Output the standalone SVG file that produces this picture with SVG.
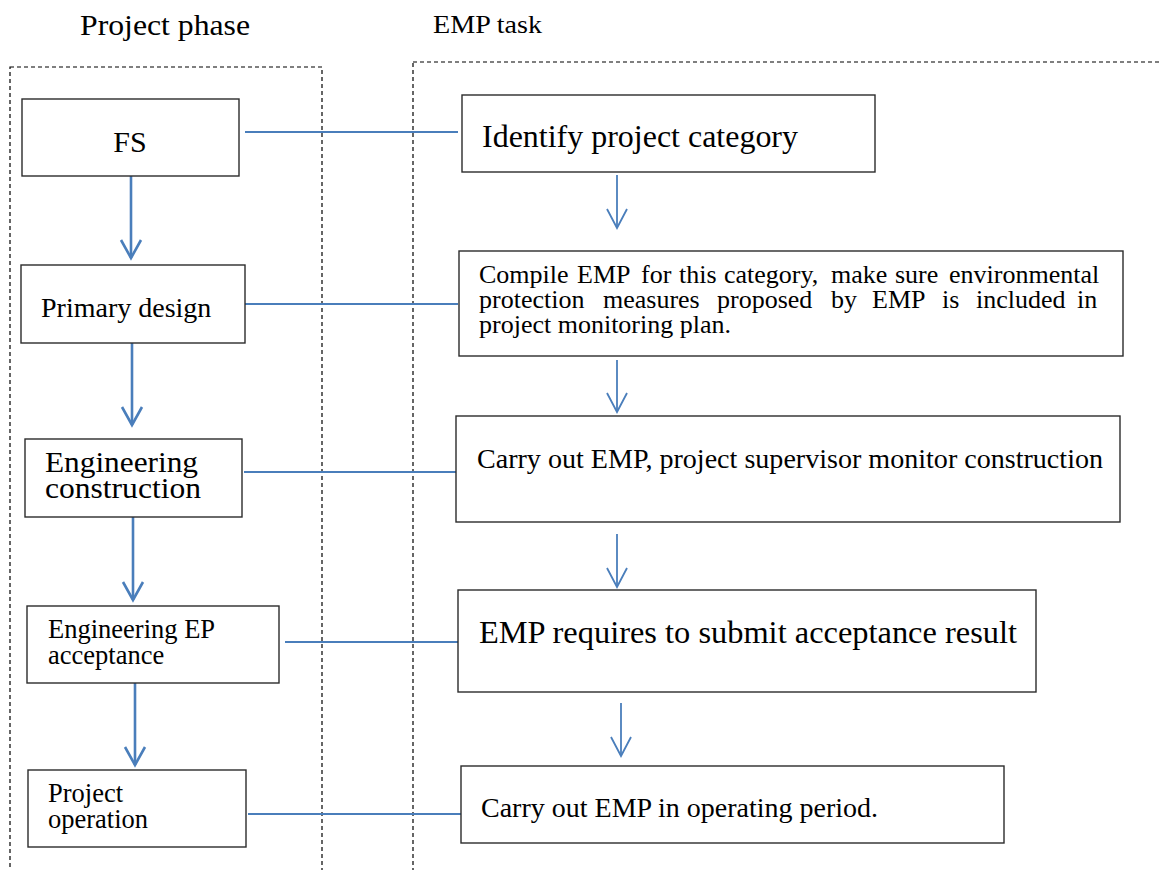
<svg xmlns="http://www.w3.org/2000/svg" width="1161" height="870" viewBox="0 0 1161 870">
  <style>
    .lane { fill: none; stroke: #000; stroke-width: 1.2; stroke-dasharray: 4 3; }
    .box { fill: #fff; stroke: #2b2b2b; stroke-width: 1.4; }
    .t { font-family: "Liberation Serif", "Times New Roman", serif; fill: #000; }
    .link { fill: none; stroke: #4a7ebb; stroke-width: 2; }
    .flowL { fill: none; stroke: #4a7ebb; stroke-width: 2.6; }
    .flowR { fill: none; stroke: #4a7ebb; stroke-width: 1.8; }
  </style>
  <defs>
    <marker id="vL" markerUnits="userSpaceOnUse" viewBox="-20 -12 22 24" refX="0" refY="0" markerWidth="22" markerHeight="24" orient="auto" overflow="visible">
      <path d="M -18 -10 L 0 0 L -18 10" fill="none" stroke="#4a7ebb" stroke-width="2.6"/>
    </marker>
    <marker id="vR" markerUnits="userSpaceOnUse" viewBox="-20 -12 22 24" refX="0" refY="0" markerWidth="22" markerHeight="24" orient="auto" overflow="visible">
      <path d="M -19 -10 L 0 0 L -19 10" fill="none" stroke="#4a7ebb" stroke-width="1.8"/>
    </marker>
  </defs>

  <rect width="1161" height="870" fill="#fff"/>

  <!-- column headings -->
  <text class="t" x="80" y="35" font-size="30" textLength="170" lengthAdjust="spacingAndGlyphs">Project phase</text>
  <text class="t" x="433" y="33" font-size="26" textLength="109" lengthAdjust="spacingAndGlyphs">EMP task</text>

  <!-- swimlanes -->
  <rect class="lane" x="10" y="67" width="312" height="830"/>
  <rect class="lane" x="413" y="62" width="800" height="830"/>

  <!-- connectors -->
  <g id="connectors">
    <line class="link" x1="245" y1="132" x2="458" y2="132"/>
    <line class="link" x1="245" y1="304" x2="458" y2="304"/>
    <line class="link" x1="244" y1="472" x2="458" y2="472"/>
    <line class="link" x1="285" y1="642" x2="458" y2="642"/>
    <line class="link" x1="248" y1="814" x2="461" y2="814"/>

    <line class="flowL" x1="131" y1="176" x2="131" y2="258" marker-end="url(#vL)"/>
    <line class="flowL" x1="132" y1="343" x2="132" y2="425" marker-end="url(#vL)"/>
    <line class="flowL" x1="133" y1="517" x2="133" y2="600" marker-end="url(#vL)"/>
    <line class="flowL" x1="135" y1="683" x2="135" y2="765" marker-end="url(#vL)"/>

    <line class="flowR" x1="617" y1="175" x2="617" y2="228" marker-end="url(#vR)"/>
    <line class="flowR" x1="617" y1="360" x2="617" y2="412" marker-end="url(#vR)"/>
    <line class="flowR" x1="617" y1="534" x2="617" y2="587" marker-end="url(#vR)"/>
    <line class="flowR" x1="621" y1="703" x2="621" y2="756" marker-end="url(#vR)"/>
  </g>

  <!-- project phase nodes -->
  <g id="fs">
    <rect class="box" x="22" y="99" width="217" height="77"/>
    <text class="t" x="130" y="152" font-size="30" text-anchor="middle">FS</text>
  </g>
  <g id="primary-design">
    <rect class="box" x="21" y="265" width="224" height="78"/>
    <text class="t" x="41" y="317" font-size="28">Primary design</text>
  </g>
  <g id="engineering-construction">
    <rect class="box" x="25" y="439" width="217" height="78"/>
    <text class="t" x="45" y="472" font-size="30" textLength="153" lengthAdjust="spacingAndGlyphs">Engineering</text>
    <text class="t" x="45" y="498" font-size="30" textLength="156" lengthAdjust="spacingAndGlyphs">construction</text>
  </g>
  <g id="engineering-ep-acceptance">
    <rect class="box" x="27" y="606" width="252" height="77"/>
    <text class="t" x="48" y="638" font-size="26.5">Engineering EP</text>
    <text class="t" x="48" y="664" font-size="26.5">acceptance</text>
  </g>
  <g id="project-operation">
    <rect class="box" x="28" y="770" width="218" height="77"/>
    <text class="t" x="48" y="802" font-size="26.5">Project</text>
    <text class="t" x="48" y="828" font-size="26.5">operation</text>
  </g>

  <!-- EMP task nodes -->
  <g id="identify-category">
    <rect class="box" x="462" y="95" width="413" height="77"/>
    <text class="t" x="482" y="147" font-size="32" textLength="316" lengthAdjust="spacingAndGlyphs">Identify project category</text>
  </g>
  <g id="compile-emp">
    <rect class="box" x="459" y="251" width="664" height="105"/>
    <text class="t" y="283" font-size="26">
      <tspan x="479">Compile</tspan><tspan x="577">EMP</tspan><tspan x="641">for</tspan><tspan x="679">this</tspan><tspan x="724">category,</tspan><tspan x="831">make</tspan><tspan x="895">sure</tspan><tspan x="949">environmental</tspan>
    </text>
    <text class="t" y="308" font-size="26">
      <tspan x="479">protection</tspan><tspan x="603">measures</tspan><tspan x="717">proposed</tspan><tspan x="831">by</tspan><tspan x="872">EMP</tspan><tspan x="942">is</tspan><tspan x="976">included</tspan><tspan x="1077">in</tspan>
    </text>
    <text class="t" x="479" y="333" font-size="26">project monitoring plan.</text>
  </g>
  <g id="carry-out-construction">
    <rect class="box" x="456" y="416" width="664" height="106"/>
    <text class="t" x="477" y="468" font-size="28" textLength="626" lengthAdjust="spacingAndGlyphs">Carry out EMP, project supervisor monitor construction</text>
  </g>
  <g id="acceptance-result">
    <rect class="box" x="458" y="590" width="578" height="102"/>
    <text class="t" x="479" y="643" font-size="31" textLength="538" lengthAdjust="spacingAndGlyphs">EMP requires to submit acceptance result</text>
  </g>
  <g id="carry-out-operation">
    <rect class="box" x="461" y="766" width="543" height="77"/>
    <text class="t" x="481" y="817" font-size="28">Carry out EMP in operating period.</text>
  </g>
</svg>
